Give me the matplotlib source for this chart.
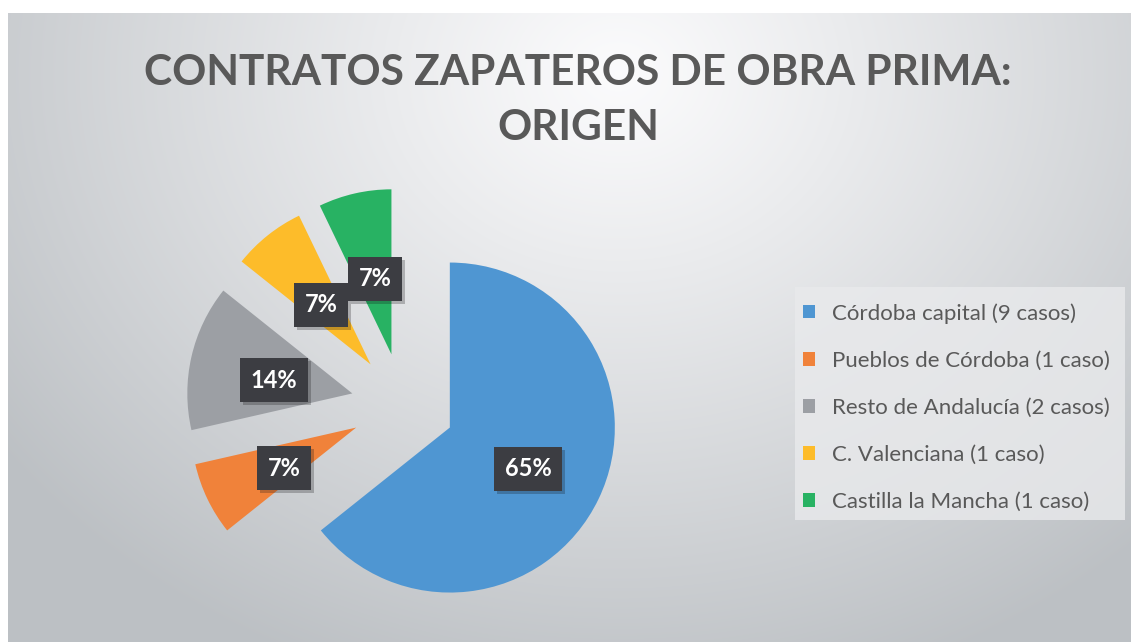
import matplotlib.pyplot as plt
import matplotlib.patheffects as pe
from matplotlib.patches import Rectangle
import numpy as np

# data
origins = ['Córdoba capital (9 casos)', 'Pueblos de Córdoba (1 caso)',
           'Resto de Andalucía (2 casos)', 'C. Valenciana (1 caso)',
           'Castilla la Mancha (1 caso)']
cases = [9, 1, 2, 1, 1]
pct_labels = ['65%', '7%', '14%', '7%', '7%']
colors = ['#4f96d2', '#f0823a', '#9c9fa4', '#fdbc2a', '#28b263']

W, H = 1131, 642
fig = plt.figure(figsize=(W / 100, H / 100), dpi=100)
fig.patch.set_facecolor('white')

# gray radial background
bg = fig.add_axes([8 / W, 0, 1 - 8 / W, (H - 13) / H])
bg.set_axis_off()
gy, gx = np.mgrid[0:629, 0:1123]
d = np.sqrt(((gx - 610) / 760.0) ** 2 + ((gy - 60) / 640.0) ** 2)
d = np.clip(d, 0, 1)
light = np.array([0.985, 0.985, 0.99])
dark = np.array([0.74, 0.755, 0.77])
img = light[None, None, :] + (dark - light)[None, None, :] * (d[..., None] ** 1.1)
bg.imshow(img, aspect='auto', interpolation='bilinear')

# pixel coordinate axes (y up)
R = 165
ax = fig.add_axes([0, 0, 1, 1])
ax.patch.set_alpha(0)
wedges, texts, autotexts = ax.pie(
    cases, colors=colors, startangle=90, counterclock=False,
    explode=[0.315 * R] * 5, radius=R, center=(403, H - 405),
    autopct='%1.0f%%', pctdistance=0.5,
    wedgeprops=dict(linewidth=0))
ax.set_xlim(0, W)
ax.set_ylim(0, H)
ax.set_axis_off()

for t, lab in zip(autotexts, pct_labels):
    t.set_text(lab)
    t.set_color('white')
    t.set_fontsize(17)
    t.set_fontweight('bold')
    t.set_family('Lato')
    x, y = t.get_position()
    t.set_position((x + 2, y - 5))
    t.set_bbox(dict(boxstyle='square,pad=0.45', facecolor='#3c3d42',
                    edgecolor='none', linewidth=0))
    t.get_bbox_patch().set_path_effects(
        [pe.SimplePatchShadow(offset=(2, -2), alpha=0.25), pe.Normal()])
autotexts[0].set_position((528, H - 469))

# title
fig.text(578 / W, 1 - 73 / H, 'CONTRATOS ZAPATEROS DE OBRA PRIMA:',
         ha='center', va='center', fontsize=30.5, fontweight='bold',
         color='#595959', family='Lato')
fig.text(578 / W, 1 - 128 / H, 'ORIGEN', ha='center', va='center',
         fontsize=30.5, fontweight='bold', color='#595959', family='Lato')

# legend with its own background box
ax.add_patch(Rectangle((795, H - 520), 330, 233, facecolor='#e9eaec',
                       alpha=0.8, edgecolor='none', zorder=0.5))
leg = ax.legend(wedges, origins, loc='upper left',
                bbox_to_anchor=(803 / W, 1 - 303 / H), frameon=False,
                labelcolor='#595959', handlelength=0.55,
                handleheight=0.55, handletextpad=0.75, labelspacing=1.22,
                borderpad=0, borderaxespad=0,
                prop={'family': 'Lato', 'size': 16})

fig.savefig('out.png', dpi=100)
